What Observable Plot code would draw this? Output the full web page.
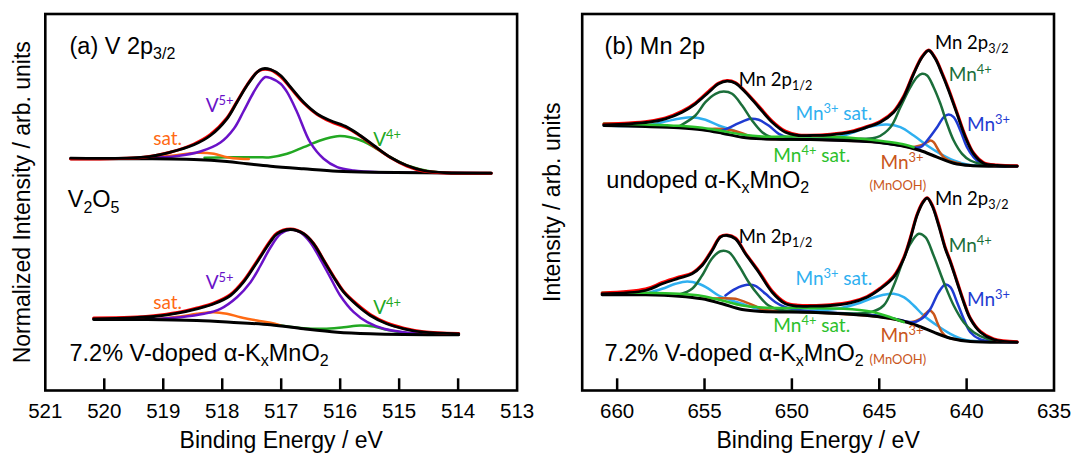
<!DOCTYPE html>
<html><head><meta charset="utf-8">
<script src="https://cdn.jsdelivr.net/npm/d3@7"></script>
<script src="https://cdn.jsdelivr.net/npm/@observablehq/plot@0.6"></script>
<style>
body{margin:0;background:#fff}
#wrap{display:flex;width:1071px;height:453px;overflow:hidden}
svg{overflow:visible}
</style>
</head><body><div id="wrap"></div>
<script>
// ---------- (a) V 2p3/2 : [binding energy eV, intensity arb.] ----------
const v2o5Data = [[520.57,231.5],[519.33,233.3],[518.88,238.3],[518.48,246.5],[518.20,256],[517.92,272.5],[517.75,289],[517.58,305.5],[517.41,318.3],[517.32,321],[517.18,320.5],[517.01,314],[516.84,302.5],[516.62,287.5],[516.39,276],[516.17,269],[515.88,262.3],[515.66,254.5],[515.43,244.5],[515.15,233],[514.87,224.5],[514.59,219.5],[514.19,217.5],[513.62,217.3],[513.44,217.3]];
const v2o5Envelope = [[520.57,232.3],[519.33,233.3],[518.88,238.3],[518.48,245.7],[518.20,255],[517.92,271.7],[517.75,288.3],[517.58,305],[517.41,318.3],[517.32,321.7],[517.18,321],[517.01,315],[516.84,303.3],[516.62,288.3],[516.39,276.7],[516.17,270],[515.88,263.3],[515.66,255],[515.43,245],[515.15,233.3],[514.87,225],[514.59,220],[514.19,217.7],[513.62,217.3],[513.44,217.3]];
const v2o5Background = [[520.57,231.7],[519.33,231.7],[518.48,231],[517.92,229],[517.58,226.7],[517.18,224.3],[516.62,221.7],[516.05,219.3],[515.49,218.3],[513.63,217.3],[513.44,217.3]];
const v2o5V5 = [[519.33,232.3],[518.76,234.5],[518.37,239],[518.03,248],[517.80,262],[517.64,279],[517.47,298],[517.35,309],[517.27,313.5],[517.18,312.5],[517.01,306.7],[516.90,298.3],[516.73,278.3],[516.51,248.3],[516.28,231.7],[516.05,223.3],[515.77,220],[515.32,218.3],[514.47,217.7],[513.44,217.3]];
const v2o5V4 = [[518.30,232.8],[517.90,233.2],[517.40,233.3],[517.18,233.3],[516.90,236.7],[516.62,243.3],[516.34,250],[516.05,254.3],[515.83,253.3],[515.60,249],[515.38,241.5],[515.09,231.5],[514.81,224],[514.53,219.8],[514.19,217.7],[513.44,217.3]];
const v2o5Sat = [[519.33,232.3],[518.82,235],[518.43,237.7],[518.14,236.7],[517.92,233.3],[517.69,231.7],[517.55,231.5]];

const dopedVData = [[520.18,72.5],[519.56,73.2],[519.16,74.8],[518.76,78],[518.43,82.5],[518.14,87.5],[517.86,96],[517.64,109.5],[517.41,129.5],[517.18,150],[517.07,157.5],[516.84,161.5],[516.62,157],[516.45,147],[516.28,130.5],[516.11,114],[515.94,99],[515.71,86],[515.49,76],[515.21,67.5],[514.92,62.3],[514.59,58.8],[513.99,57]];
const dopedVEnvelope = [[520.18,71.7],[519.56,72.7],[519.16,74],[518.76,77.3],[518.43,81.7],[518.14,86.7],[517.86,95],[517.64,108.3],[517.41,128.3],[517.18,149],[517.07,156.7],[516.84,161],[516.62,156.7],[516.45,146.7],[516.28,130],[516.11,113.3],[515.94,98.3],[515.71,85],[515.49,75],[515.21,66.7],[514.92,61.7],[514.59,58.3],[513.99,56.7]];
const dopedVBackground = [[520.18,71],[519.27,71],[518.43,70],[517.86,68.3],[517.18,65.7],[516.62,61.7],[516.05,58.3],[515.49,56.7],[514.92,56],[513.99,55.7]];
const dopedVV5 = [[519.27,71],[518.71,73.3],[518.31,76.7],[518.03,81.7],[517.75,93.3],[517.52,108.3],[517.35,125],[517.18,143.3],[517.01,156.7],[516.84,161],[516.68,158.3],[516.51,148.3],[516.34,131.7],[516.17,113.3],[516.00,95],[515.77,78.3],[515.54,68.3],[515.26,61.7],[514.92,58.3],[514.53,56.7],[513.99,56]];
const dopedVV4 = [[517.20,66.5],[517.01,65],[516.62,62.3],[516.28,61.7],[515.94,63.3],[515.66,65],[515.43,64],[515.21,60.7],[514.92,57.7],[514.59,56.3],[513.99,55.7]];
const dopedVSat = [[519.16,71],[518.71,74],[518.43,76.7],[518.14,78.3],[517.92,76.7],[517.69,73.3],[517.41,70],[517.18,67.7],[517.01,65]];

// ---------- (b) Mn 2p ----------
const undopedData = [[660.76,266.5],[659.33,267.5],[658.19,269.3],[657.24,272.5],[656.28,279.3],[655.52,287.5],[654.76,299.3],[654.19,307.5],[653.71,310],[653.23,308],[652.66,299],[651.90,284.5],[651.13,269.5],[650.37,259.3],[649.61,255.5],[648.94,255.3],[647.80,256.3],[646.65,259],[645.70,264],[644.94,269.3],[644.17,279.3],[643.60,294.5],[643.03,317.5],[642.55,334],[642.17,340.5],[641.79,332.5],[641.41,318],[641.03,301.5],[640.55,278],[640.07,254.5],[639.60,237.5],[639.03,228],[638.26,225.5],[637.11,224.8]];
const undopedEnvelope = [[660.76,265.7],[659.33,266.7],[658.19,268.3],[657.24,271.7],[656.28,278.3],[655.52,286.7],[654.76,298.3],[654.19,306.7],[653.71,309.3],[653.23,307.3],[652.66,298.3],[651.90,283.3],[651.13,268.3],[650.37,258.3],[649.61,255],[648.94,255],[647.80,255.7],[646.65,258.3],[645.70,263.3],[644.94,268.3],[644.17,278.3],[643.60,293.3],[643.03,316.7],[642.55,333.3],[642.17,340],[641.79,331.7],[641.41,316.7],[641.03,300],[640.55,276.7],[640.07,253.3],[639.60,236.7],[639.03,227.3],[638.26,225],[637.11,224.3]];
const undopedBackground = [[660.76,265],[658.38,264],[656.47,262.7],[655.14,260.7],[653.99,257.3],[652.85,253.3],[651.70,251.7],[648.94,251],[647.04,250],[645.12,248.3],[643.79,245],[642.65,240],[641.69,233.3],[640.74,227.3],[639.79,225],[637.11,224.3]];
const undopedMn4 = [[656.47,264],[655.52,275],[654.95,288.3],[654.37,296.7],[653.90,299],[653.42,296.7],[652.85,285],[652.28,270],[651.70,258.3],[651.13,252.7],[650.56,251],[648.94,251],[646.08,251.7],[645.12,253.3],[644.36,263.3],[643.79,283.3],[643.22,303.3],[642.84,313.3],[642.55,316.7],[642.26,315],[641.89,303.3],[641.50,286.7],[641.12,266.7],[640.74,250],[640.26,236.7],[639.79,230],[639.03,226],[638.26,224.7]];
const undopedMn3 = [[653.99,260],[653.61,262.7],[653.04,267.3],[652.37,271.7],[651.90,270.7],[651.33,265],[650.75,256.7],[650.18,252.7],[649.61,251],[648.94,251],[645.12,248.3],[643.79,245],[642.65,243.3],[642.26,250],[641.69,263.3],[641.31,273.3],[641.03,276],[640.74,273.3],[640.36,260],[639.98,243.3],[639.60,233.3],[639.21,227.3],[638.64,225],[637.11,224.3]];
const undopedMnOOH = [[655.14,261],[654.37,261.7],[653.61,260.7],[652.85,257.3],[652.28,253.3],[651.70,251.7],[648.94,251],[645.12,248.3],[643.79,245],[643.22,243.3],[642.65,245],[642.26,248.3],[642.07,250],[641.89,248.3],[641.60,240],[641.31,233.3],[640.93,229.3],[640.36,227]];
const undopedMn3Sat = [[660.76,265],[658.38,265],[657.42,268.3],[656.47,271.7],[655.71,273.3],[654.95,270.7],[654.19,265],[653.42,260.7],[652.66,255],[651.70,251.7],[648.94,251.7],[647.41,253.3],[646.46,258.3],[645.51,264],[644.55,266],[643.79,263.3],[643.03,255],[642.26,245],[641.50,236.7],[640.74,230],[639.98,226],[639.03,224.7]];
const undopedMn4Sat = [[660.76,267],[658.38,266],[656.47,264.7],[655.14,262.8],[653.99,259.5],[652.85,256],[651.70,254],[648.94,254],[647.04,253.3],[645.12,250],[643.79,246.7],[643.03,243.3]];

const dopedMnData = [[660.86,97.5],[658.38,101.5],[657.42,108],[656.47,113.5],[655.71,117.5],[655.14,126],[654.56,141],[654.09,154],[653.71,155.5],[653.23,152.5],[652.66,137.5],[651.90,119.5],[651.13,99.5],[650.37,88],[649.61,85.3],[648.94,85],[647.80,85.8],[646.65,88.5],[645.70,94],[644.94,102.5],[644.17,114.5],[643.60,133],[643.22,153],[642.84,176],[642.49,189],[642.26,192.8],[641.98,186],[641.60,166.5],[641.22,143],[640.93,129.5],[640.55,109.5],[640.17,89.5],[639.79,72.5],[639.21,59],[638.45,51.5],[637.11,48.8]];
const dopedMnEnvelope = [[660.86,96.7],[658.38,100],[657.42,106.7],[656.47,112.3],[655.71,116.7],[655.14,125],[654.56,140],[654.09,153.3],[653.71,155],[653.23,151.7],[652.66,136.7],[651.90,118.3],[651.13,98.3],[650.37,86.7],[649.61,84.3],[648.94,84.3],[647.80,85],[646.65,87.7],[645.70,93.3],[644.94,101.7],[644.17,113.3],[643.60,131.7],[643.22,151.7],[642.84,175],[642.49,188.3],[642.26,192.3],[641.98,185],[641.60,165],[641.22,141.7],[640.93,128.3],[640.55,108.3],[640.17,88.3],[639.79,71.7],[639.21,58.3],[638.45,51],[637.11,48.3]];
const dopedMnBackground = [[660.86,95.7],[658.38,95.7],[656.47,94.3],[655.14,91.7],[653.99,86.7],[652.85,81],[651.70,79],[648.94,78.3],[647.04,76.7],[645.12,74],[643.79,70],[642.84,65],[641.89,58.3],[640.93,52.3],[639.79,49],[637.11,48.3]];
const dopedMnMn4 = [[656.47,95.7],[655.71,101.7],[655.14,115],[654.56,132.3],[654.09,139.3],[653.61,138.3],[653.04,125],[652.47,108.3],[651.90,95],[651.33,85],[650.75,81],[649.80,79],[648.94,78.3],[645.51,78.3],[644.75,85],[644.17,105],[643.60,131.7],[643.22,146.7],[642.74,156.7],[642.36,153.3],[641.89,135],[641.31,108.3],[640.74,85],[640.17,68.3],[639.60,58.3],[638.83,51.7],[638.07,49]];
const dopedMnMn3 = [[653.80,95],[653.23,101.7],[652.56,105.7],[652.09,104.7],[651.51,96.7],[650.94,88.3],[650.37,83.3],[649.80,81],[648.94,79],[645.12,75],[643.79,70.5],[643.03,68.3],[642.46,73.3],[642.07,81.7],[641.60,98.3],[641.22,106],[640.93,103.3],[640.55,88.3],[640.17,71.7],[639.79,58.3],[639.21,51],[638.45,49],[637.11,48.3]];
const dopedMnMnOOH = [[655.14,91.7],[653.99,92.3],[653.23,91.7],[652.66,88.3],[652.09,84.3],[651.70,81],[648.94,78.3],[645.12,74],[643.79,70],[643.22,68.3],[642.65,71.7],[642.36,76.7],[642.11,80],[641.89,76.7],[641.69,68.3],[641.41,58.3],[641.12,53.3],[640.36,50.5]];
const dopedMnMn3Sat = [[658.38,96.7],[657.42,101.7],[656.66,106.7],[655.99,109],[655.33,106.7],[654.76,101.7],[654.19,95],[653.61,91],[652.85,86.7],[652.09,82.3],[651.33,80],[648.94,80],[647.41,81.7],[646.27,86.7],[645.51,91.7],[644.75,95.7],[644.17,96.7],[643.60,93.3],[643.03,85],[642.46,75],[641.69,65],[640.93,56.7],[640.17,51],[639.21,49]];
const dopedMnMn4Sat = [[660.86,97.7],[658.38,97.7],[656.47,96.7],[655.14,94.5],[653.99,90],[652.85,85],[651.70,83],[649.61,82.5],[648.94,82.3],[647.04,81.7],[645.51,79],[644.36,73.3],[643.60,68.3]];

// ---------- axes ----------
const vTickMarks = [520, 519, 518, 517, 516, 515, 514];
const vTickLabels = [521, 520, 519, 518, 517, 516, 515, 514, 513];
const mnTickMarks = [660, 655, 650, 645, 640];
const mnTickLabels = [660, 655, 650, 645, 640, 635];
const xTitle = "Binding Energy / eV";
const yTitleA = "Normalized Intensity / arb. units";
const yTitleB = "Intensity / arb. units";

// ---------- annotations: text, energy, intensity, style ----------
const labelsA = [
  {text: "(a) V 2p_{3/2}", E: 520.59, v: 337, s: "main"},
  {text: "V_{2}O_{5}", E: 520.62, v: 183.3, s: "main"},
  {text: "7.2% V-doped α-K_{x}MnO_{2}", E: 520.59, v: 30, s: "main"},
  {text: "sat.", E: 519.17, v: 246, s: "sat"},
  {text: "V^{5+}", E: 518.28, v: 278.3, s: "v5"},
  {text: "V^{4+}", E: 515.44, v: 245, s: "v4"},
  {text: "sat.", E: 519.17, v: 82, s: "sat"},
  {text: "V^{5+}", E: 518.28, v: 102, s: "v5"},
  {text: "V^{4+}", E: 515.44, v: 77, s: "v4"}
];
const labelsB = [
  {text: "(b) Mn 2p", E: 660.72, v: 337, s: "main"},
  {text: "undoped α-K_{x}MnO_{2}", E: 660.62, v: 203, s: "main"},
  {text: "7.2% V-doped α-K_{x}MnO_{2}", E: 660.72, v: 30, s: "main"},
  {text: "Mn 2p_{1/2}", E: 653.04, v: 305, s: "peak"},
  {text: "Mn 2p_{3/2}", E: 641.81, v: 342, s: "peak"},
  {text: "Mn^{4+}", E: 641.03, v: 310, s: "mn4"},
  {text: "Mn^{3+}", E: 639.98, v: 260, s: "mn3"},
  {text: "Mn^{3+} sat.", E: 649.80, v: 271, s: "mn3sat"},
  {text: "Mn^{4+} sat.", E: 651.06, v: 228.3, s: "mn4sat"},
  {text: "Mn^{3+}", E: 644.93, v: 222, s: "mnooh"},
  {text: "(MnOOH)", E: 645.56, v: 201, s: "mnoohSmall"},
  {text: "Mn 2p_{1/2}", E: 653.04, v: 148, s: "peak"},
  {text: "Mn 2p_{3/2}", E: 641.81, v: 186, s: "peak"},
  {text: "Mn^{4+}", E: 641.03, v: 139, s: "mn4"},
  {text: "Mn^{3+}", E: 639.98, v: 85, s: "mn3"},
  {text: "Mn^{3+} sat.", E: 649.80, v: 106, s: "mn3sat"},
  {text: "Mn^{4+} sat.", E: 651.06, v: 58.3, s: "mn4sat"},
  {text: "Mn^{3+}", E: 644.93, v: 48.3, s: "mnooh"},
  {text: "(MnOOH)", E: 645.56, v: 27, s: "mnoohSmall"}
];

// ---------- styles ----------
const ARIAL = "Liberation Sans, Arial, Helvetica, sans-serif";
const CALI = "Lato, Carlito, Calibri, sans-serif";
const C = {
  data: "#ff0000", fit: "#000000", v5: "#6a12c8", v4: "#22a822", sat: "#ff6a13",
  mn4: "#1b6e3a", mn3: "#1f3bd1", mn3sat: "#2fb0f0", mn4sat: "#2cc12c", mnooh: "#c9561b"
};
const labelStyle = {
  main: {fill: "#000", fontSize: 23.5, fontFamily: ARIAL},
  peak: {fill: "#000", fontSize: 18.5, fontFamily: CALI},
  sat: {fill: C.sat, fontSize: 19, fontFamily: CALI},
  v5: {fill: C.v5, fontSize: 19, fontFamily: CALI},
  v4: {fill: C.v4, fontSize: 19, fontFamily: CALI},
  mn4: {fill: C.mn4, fontSize: 19, fontFamily: CALI},
  mn3: {fill: C.mn3, fontSize: 19, fontFamily: CALI},
  mn3sat: {fill: C.mn3sat, fontSize: 19, fontFamily: CALI},
  mn4sat: {fill: C.mn4sat, fontSize: 19, fontFamily: CALI},
  mnooh: {fill: C.mnooh, fontSize: 19, fontFamily: CALI},
  mnoohSmall: {fill: C.mnooh, fontSize: 13, fontFamily: CALI}
};
const TICK_LEN = 11.7; // tick length in intensity units (1 unit = 1 px)

const line = (data, stroke, w) => Plot.line(data, {x: d => d[0], y: d => d[1], stroke, strokeWidth: w, curve: "catmull-rom", strokeLinejoin: "round", strokeLinecap: "round"});
const labelMarks = labels => labels.map(l => Plot.text([l], {x: "E", y: "v", text: "text", textAnchor: "start", lineAnchor: "bottom", ...labelStyle[l.s]}));

function panel({width, marginLeft, marginRight, domain, tickMarks, tickLabels, yTitle, yTitleDx, series, labels}) {
  const H = 453, mt = 13.5, mb = 63;
  return Plot.plot({
    width, height: H, marginLeft, marginRight, marginTop: mt, marginBottom: mb,
    style: {fontFamily: ARIAL, color: "#000", background: "transparent", overflow: "visible"},
    x: {domain, axis: null},
    y: {domain: [0, 376.5], axis: null},
    marks: [
      ...series,
      ...labelMarks(labels),
      Plot.ruleX(tickMarks, {x: d => d, y1: 0, y2: TICK_LEN, stroke: "#000", strokeWidth: 2.5}),
      Plot.axisX(tickLabels, {tickSize: 0, tickPadding: 13, fontSize: 20.5, fontFamily: ARIAL, tickFormat: d => String(d), label: null}),
      Plot.text([xTitle], {text: d => d, frameAnchor: "bottom", dy: 57, lineAnchor: "bottom", textAnchor: "middle", fontSize: 23, fontFamily: ARIAL}),
      Plot.text([yTitle], {text: d => d, frameAnchor: "left", dx: yTitleDx, rotate: -90, lineAnchor: "bottom", textAnchor: "middle", fontSize: 23, fontFamily: ARIAL}),
      Plot.frame({stroke: "#000", strokeWidth: 2.6})
    ]
  });
}

function richify(svg) {
  d3.select(svg).selectAll("text").each(function () {
    const s = this.textContent;
    if (!/[\^_]\{/.test(s)) return;
    const fs = parseFloat(getComputedStyle(this).fontSize) || 20;
    const sel = d3.select(this);
    sel.text(null);
    let shift = 0;
    const re = /([\^_])\{([^}]*)\}|([^\^_]+)/g;
    let m;
    while ((m = re.exec(s))) {
      if (m[3] !== undefined) {
        const t = sel.append("tspan").text(m[3]);
        if (shift) { t.attr("dy", -shift); shift = 0; }
      } else {
        const sup = m[1] === "^";
        const d = sup ? -0.36 * fs : 0.24 * fs;
        sel.append("tspan").attr("font-size", (fs * 0.68).toFixed(1)).attr("dy", d - shift).text(m[2]);
        shift = d;
      }
    }
  });
}

const plotA = panel({
  width: 540, marginLeft: 44.8, marginRight: 23.4, domain: [521, 513],
  tickMarks: vTickMarks, tickLabels: vTickLabels, yTitle: yTitleA, yTitleDx: -15.3,
  series: [
    line(v2o5V4, C.v4, 2.5), line(v2o5Sat, C.sat, 2.5), line(v2o5V5, C.v5, 2.5),
    line(v2o5Background, C.fit, 3), line(v2o5Data, C.data, 3), line(v2o5Envelope, C.fit, 2.8),
    line(dopedVV4, C.v4, 2.5), line(dopedVSat, C.sat, 2.5), line(dopedVV5, C.v5, 2.5),
    line(dopedVBackground, C.fit, 3), line(dopedVData, C.data, 3), line(dopedVEnvelope, C.fit, 2.8)
  ],
  labels: labelsA
});
const plotB = panel({
  width: 531, marginLeft: 41.7, marginRight: 17.5, domain: [662, 635],
  tickMarks: mnTickMarks, tickLabels: mnTickLabels, yTitle: yTitleB, yTitleDx: -22.7,
  series: [
    line(undopedMn3Sat, C.mn3sat, 2.5), line(undopedMnOOH, C.mnooh, 2.5), line(undopedMn3, C.mn3, 2.5), line(undopedMn4, C.mn4, 2.5),
    line(undopedBackground, C.fit, 3), line(undopedMn4Sat, C.mn4sat, 2.5), line(undopedData, C.data, 3), line(undopedEnvelope, C.fit, 2.8),
    line(dopedMnMn3Sat, C.mn3sat, 2.5), line(dopedMnMnOOH, C.mnooh, 2.5), line(dopedMnMn3, C.mn3, 2.5), line(dopedMnMn4, C.mn4, 2.5),
    line(dopedMnBackground, C.fit, 3), line(dopedMnMn4Sat, C.mn4sat, 2.5), line(dopedMnData, C.data, 3), line(dopedMnEnvelope, C.fit, 2.8)
  ],
  labels: labelsB
});
const wrap = document.getElementById("wrap");
wrap.append(plotA, plotB);
richify(plotA);
richify(plotB);
</script>
</body></html>
